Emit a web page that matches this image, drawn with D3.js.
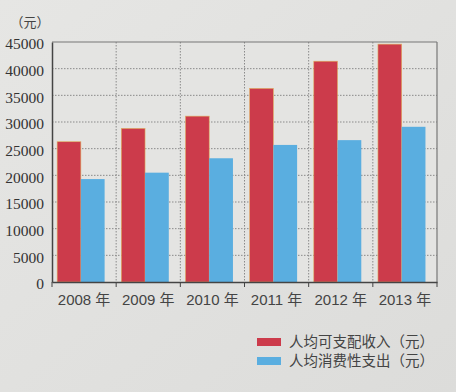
<!DOCTYPE html>
<html><head><meta charset="utf-8">
<script src="https://cdn.jsdelivr.net/npm/d3@7"></script>
<style>
html,body{margin:0;padding:0;background:#e2e2e0;}
svg{display:block;}
</style></head>
<body>
<svg id="chart" width="456" height="392"></svg>
<script>
const categories = ["2008 年","2009 年","2010 年","2011 年","2012 年","2013 年"];
const incomeValues = [26300, 28800, 31100, 36300, 41400, 44600];
const spendValues = [19300, 20500, 23200, 25700, 26600, 29100];
const seriesNames = ["人均可支配收入（元）","人均消费性支出（元）"];
const yTicks = [0,5000,10000,15000,20000,25000,30000,35000,40000,45000];
const unitLabel = "（元）";

const svg = d3.select("#chart");
const W = 456, H = 392;
const defs = svg.append("defs");
const bg = defs.append("linearGradient").attr("id","bg").attr("x1",0).attr("y1",0).attr("x2",1).attr("y2",1);
bg.append("stop").attr("offset","0%").attr("stop-color","#e6e6e4");
bg.append("stop").attr("offset","100%").attr("stop-color","#dcdcda");
svg.append("rect").attr("width",W).attr("height",H).attr("fill","url(#bg)");

const m = {left:52, top:42, right:437, bottom:282};
const x = d3.scaleBand().domain(categories).range([m.left, m.right]).paddingInner(0).paddingOuter(0);
const y = d3.scaleLinear().domain([0,45000]).range([m.bottom, m.top]);

svg.append("rect").attr("x",m.left).attr("y",m.top).attr("width",m.right-m.left).attr("height",m.bottom-m.top).attr("fill","#e4e4e2");

svg.append("g").selectAll("line").data(yTicks.filter(d=>d>0 && d<45000)).join("line")
  .attr("x1",m.left).attr("x2",m.right).attr("y1",d=>y(d)).attr("y2",d=>y(d))
  .attr("stroke","#8a8a8a").attr("stroke-width",1).attr("stroke-dasharray","1.5,1.5");
const bounds = categories.slice(1).map(c=>x(c));
svg.append("g").selectAll("line").data(bounds).join("line")
  .attr("x1",d=>d).attr("x2",d=>d).attr("y1",m.top).attr("y2",m.bottom)
  .attr("stroke","#8a8a8a").attr("stroke-width",1).attr("stroke-dasharray","1.5,1.5");

const bw = x.bandwidth();
const gBars = svg.append("g");
gBars.selectAll("rect.inc").data(incomeValues).join("rect").attr("class","inc")
  .attr("x",(d,i)=>x(categories[i])+bw*0.08).attr("width",bw*0.37)
  .attr("y",d=>y(d)).attr("height",d=>y(0)-y(d)).attr("fill","#cc3b4b")
  .attr("stroke","#e0b060").attr("stroke-width",0.6);
gBars.selectAll("rect.sp").data(spendValues).join("rect").attr("class","sp")
  .attr("x",(d,i)=>x(categories[i])+bw*0.45).attr("width",bw*0.37)
  .attr("y",d=>y(d)).attr("height",d=>y(0)-y(d)).attr("fill","#5aaee0");

svg.append("line").attr("x1",m.left).attr("x2",m.right).attr("y1",m.top).attr("y2",m.top).attr("stroke","#777").attr("stroke-width",1.2);
svg.append("line").attr("x1",m.right).attr("x2",m.right).attr("y1",m.top).attr("y2",m.bottom).attr("stroke","#777").attr("stroke-width",1.2);

const yAxis = d3.axisLeft(y).tickValues(yTicks).tickSize(0).tickPadding(8).tickFormat(d3.format("d"));
const gy = svg.append("g").attr("transform",`translate(${m.left},0)`).call(yAxis);
gy.attr("font-family","'Liberation Serif','DejaVu Serif',serif");
gy.select(".domain").attr("stroke","#444").attr("stroke-width",1.5);
gy.selectAll("text").style("font-family","'Liberation Serif','DejaVu Serif',serif").attr("font-size",15.5).attr("fill","#333").attr("dy","0.45em");

const xAxis = d3.axisBottom(x).tickSize(0).tickPadding(12);
const gx = svg.append("g").attr("transform",`translate(0,${m.bottom})`).call(xAxis);
gx.select(".domain").attr("stroke","#444").attr("stroke-width",1.5);
gx.selectAll("text").attr("font-family","'Liberation Sans','Noto Sans CJK SC',sans-serif").attr("font-size",15).attr("fill","#444");
gx.append("g").selectAll("line").data([m.left, ...bounds, m.right]).join("line")
  .attr("x1",d=>d).attr("x2",d=>d).attr("y1",0).attr("y2",5).attr("stroke","#444");

svg.append("text").attr("x",30).attr("y",27).attr("text-anchor","middle")
  .attr("font-family","'Noto Sans CJK SC',sans-serif").attr("font-size",13).attr("fill","#444").text(unitLabel);

const lg = svg.append("g");
const colors = ["#cc3b4b","#5aaee0"];
seriesNames.forEach((n,i)=>{
  const yy = 342 + i*19;
  lg.append("rect").attr("x",257).attr("y",yy-4).attr("width",24).attr("height",8).attr("fill",colors[i]);
  lg.append("text").attr("x",289).attr("y",yy+5).attr("font-family","'Noto Sans CJK SC',sans-serif")
    .attr("font-size",14.5).attr("fill","#444").text(n);
});
</script>
</body></html>
